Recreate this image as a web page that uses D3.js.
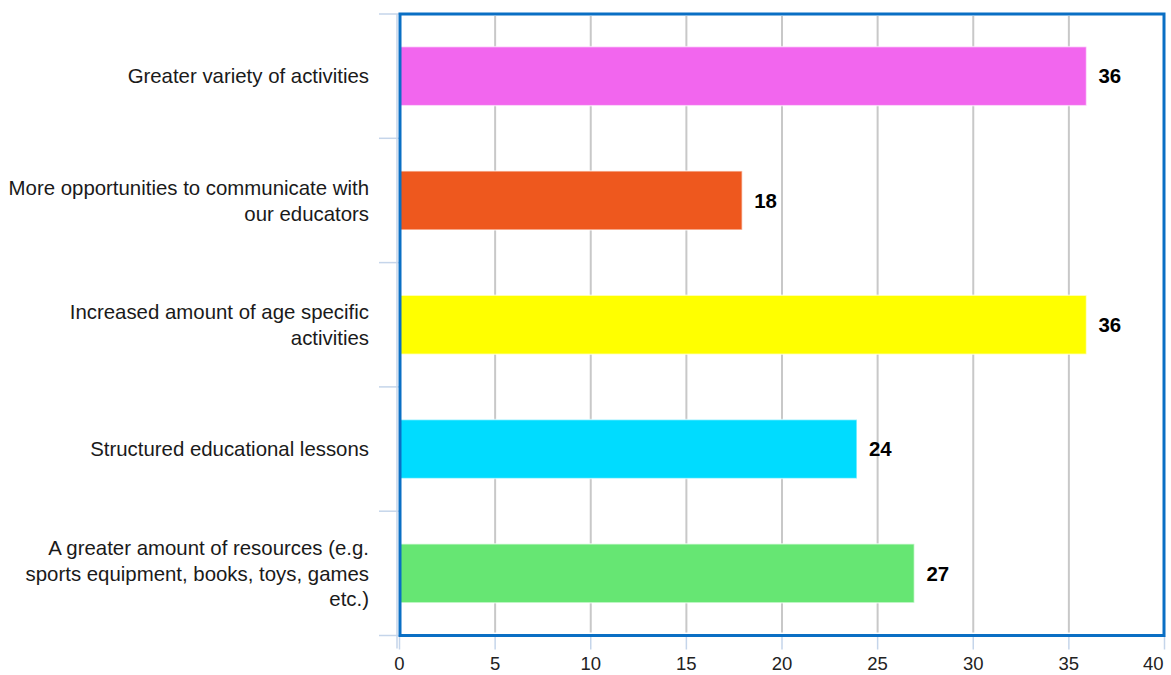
<!DOCTYPE html>
<html>
<head>
<meta charset="utf-8">
<script src="https://cdn.jsdelivr.net/npm/d3@7"></script>
<style>
  body { margin: 0; background: #fff; }
  text { font-family: "Liberation Sans", Arial, sans-serif; }
</style>
</head>
<body>
<div id="chart"></div>
<script>
// chart data
var categories = [
  "Greater variety of activities",
  "More opportunities to communicate with our educators",
  "Increased amount of age specific activities",
  "Structured educational lessons",
  "A greater amount of resources (e.g. sports equipment, books, toys, games etc.)"
];
var values = [36, 18, 36, 24, 27];
var barColors = ["#f266ee", "#ee581e", "#ffff00", "#00dcff", "#66e673"];
var xTicks = [0, 5, 10, 15, 20, 25, 30, 35, 40];

var W = 1171, H = 675;
var margin = {top: 14, right: 7, bottom: 40, left: 400};

var svg = d3.select("#chart").append("svg")
  .attr("width", W)
  .attr("height", H);

var x = d3.scaleLinear()
  .domain([0, 40])
  .range([margin.left - 0.5, W - margin.right + 0.5]);

var y = d3.scaleBand()
  .domain(categories)
  .range([margin.top, H - margin.bottom + 0.5])
  .paddingInner(0.525)
  .paddingOuter(0.2625);

var plotTop = margin.top, plotBottom = H - margin.bottom + 0.5;
var tickColor = "#c5d5ea";

// gridlines
svg.append("g")
  .selectAll("line")
  .data(xTicks.slice(1, -1))
  .join("line")
    .attr("x1", d => x(d)).attr("x2", d => x(d))
    .attr("y1", plotTop + 2).attr("y2", plotBottom - 3)
    .attr("stroke", "#c8c8c8")
    .attr("stroke-width", 2);

// light axis lines and ticks outside the frame
var boundaries = categories.map(c => y(c) - y.step() * y.paddingInner() / 2);
boundaries[0] = plotTop;
boundaries.push(plotBottom);

svg.append("line")
  .attr("x1", margin.left - 3).attr("x2", margin.left - 3)
  .attr("y1", plotTop).attr("y2", plotBottom + 13)
  .attr("stroke", tickColor).attr("stroke-width", 1.5);

svg.append("g")
  .selectAll("line")
  .data(boundaries)
  .join("line")
    .attr("x1", margin.left - 21).attr("x2", margin.left)
    .attr("y1", d => d).attr("y2", d => d)
    .attr("stroke", tickColor).attr("stroke-width", 1.5);

svg.append("g")
  .selectAll("line")
  .data(xTicks)
  .join("line")
    .attr("x1", d => x(d)).attr("x2", d => x(d))
    .attr("y1", plotBottom).attr("y2", plotBottom + 14)
    .attr("stroke", tickColor).attr("stroke-width", 1.5);

// bars
svg.append("g")
  .selectAll("rect")
  .data(values)
  .join("rect")
    .attr("x", x(0))
    .attr("y", (d, i) => y(categories[i]))
    .attr("width", d => x(d) - x(0) - 1.5)
    .attr("height", y.bandwidth())
    .attr("fill", (d, i) => barColors[i])
    .attr("stroke", "#fff")
    .attr("stroke-opacity", 0.6)
    .attr("stroke-width", 1.5);

// value labels
svg.append("g")
  .selectAll("text")
  .data(values)
  .join("text")
    .attr("x", d => x(d) + 10.5)
    .attr("y", (d, i) => y(categories[i]) + y.bandwidth() / 2)
    .attr("dy", "0.36em")
    .style("font-size", "20.4px")
    .style("font-weight", "bold")
    .attr("fill", "#000")
    .text(d => d);

// frame
svg.append("rect")
  .attr("x", margin.left)
  .attr("y", plotTop)
  .attr("width", x(40) - margin.left - 0.5)
  .attr("height", plotBottom - plotTop)
  .attr("fill", "none")
  .attr("stroke", "#0a6fc4")
  .attr("stroke-width", 3);

// x tick labels (last one kept inside the page)
svg.append("g")
  .selectAll("text")
  .data(xTicks)
  .join("text")
    .attr("x", (d, i) => i === xTicks.length - 1 ? x(d) - 1 : x(d))
    .attr("y", 670)
    .attr("text-anchor", (d, i) => i === xTicks.length - 1 ? "end" : "middle")
    .style("font-size", "18.5px")
    .attr("fill", "#222")
    .text(d => d);

// category labels, wrapped
var lineH = 25.5, maxW = 366;
var labels = svg.append("g")
  .selectAll("text")
  .data(categories)
  .join("text")
    .attr("text-anchor", "end")
    .style("font-size", "20.4px")
    .attr("fill", "#1a1a1a");

labels.each(function(c) {
  var t = d3.select(this);
  var words = c.split(" "), lines = [], cur = "";
  words.forEach(function(w) {
    var test = cur ? cur + " " + w : w;
    t.text(test);
    if (this.getComputedTextLength() > maxW && cur) {
      lines.push(cur);
      cur = w;
    } else {
      cur = test;
    }
  }, this);
  lines.push(cur);
  t.text(null);
  var cy = y(c) + y.bandwidth() / 2;
  var y0 = cy - (lines.length - 1) * lineH / 2;
  lines.forEach(function(l, i) {
    t.append("tspan")
      .attr("x", margin.left - 31)
      .attr("y", y0 + i * lineH)
      .attr("dy", "0.36em")
      .text(l);
  });
});
</script>
</body>
</html>
